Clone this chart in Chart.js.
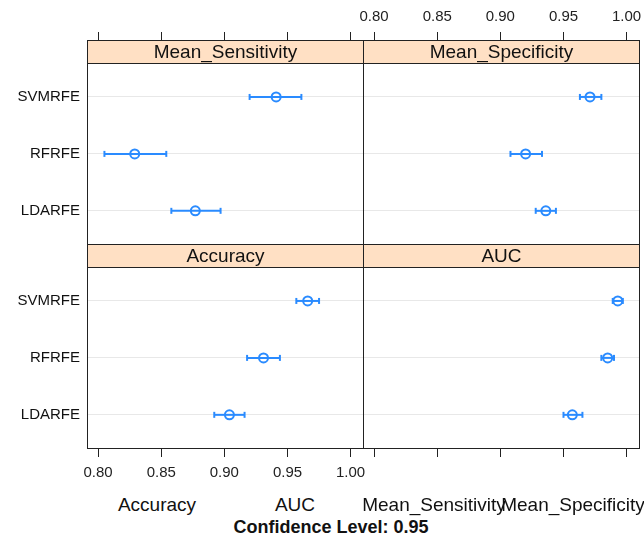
<!DOCTYPE html>
<html>
<head>
<meta charset="utf-8">
<script src="https://cdn.jsdelivr.net/npm/chart.js@4.4.1/dist/chart.umd.min.js"></script>
<style>
body{margin:0;background:#fff;width:644px;height:537px;position:relative;overflow:hidden;font-family:"Liberation Sans",Arial,sans-serif;}
.p{position:absolute;}
.k{position:absolute;font-size:19px;color:#111;transform:translate(-50%,-50%);white-space:nowrap;}
.b{font-weight:bold;font-size:18px;}
</style>
</head>
<body>
<div class="p" style="left:0;top:0;width:364px;height:245px"><canvas id="sens"></canvas></div>
<div class="p" style="left:343px;top:0;width:301px;height:245px"><canvas id="spec"></canvas></div>
<div class="p" style="left:0;top:244px;width:384px;height:240px"><canvas id="acc"></canvas></div>
<div class="p" style="left:363px;top:244px;width:281px;height:240px"><canvas id="auc"></canvas></div>

<div class="k" style="left:157px;top:505px">Accuracy</div>
<div class="k" style="left:295px;top:505px">AUC</div>
<div class="k" style="left:434px;top:505px">Mean_Sensitivity</div>
<div class="k" style="left:573px;top:505px">Mean_Specificity</div>
<div class="k b" style="left:331px;top:527px">Confidence Level: 0.95</div>

<script>
//Models, top to bottom
const MODELS = ['SVMRFE', 'RFRFE', 'LDARFE'];
const X_TICKS = [0.80, 0.85, 0.90, 0.95, 1.00];

//Mean_Sensitivity
const SENS_MEAN = [0.941, 0.829, 0.877];
const SENS_LO = [0.920, 0.805, 0.858];
const SENS_HI = [0.961, 0.854, 0.897];

//Mean_Specificity
const SPEC_MEAN = [0.971, 0.920, 0.936];
const SPEC_LO = [0.963, 0.908, 0.928];
const SPEC_HI = [0.980, 0.933, 0.944];

//Accuracy
const ACC_MEAN = [0.966, 0.931, 0.904];
const ACC_LO = [0.957, 0.918, 0.892];
const ACC_HI = [0.975, 0.944, 0.916];

//AUC
const AUC_MEAN = [0.993, 0.985, 0.957];
const AUC_LO = [0.989, 0.980, 0.950];
const AUC_HI = [0.997, 0.990, 0.965];

const BLUE = '#2a8bff';
const FONT = '"Liberation Sans", Arial, sans-serif';

//strip on top of each panel + black frame
const stripPlugin = {
    id: 'strip',
    beforeDatasetsDraw(chart, args, opts) {
        const ctx = chart.ctx;
        const a = chart.chartArea;
        const bottom = Math.round(chart.scales.y.getPixelForValue(0.4));
        ctx.save();
        ctx.fillStyle = '#ffe0c4';
        ctx.fillRect(a.left, a.top, a.right - a.left, bottom - a.top);
        ctx.strokeStyle = '#222';
        ctx.lineWidth = 1;
        ctx.beginPath();
        ctx.moveTo(a.left, bottom + 0.5);
        ctx.lineTo(a.right, bottom + 0.5);
        ctx.stroke();
        ctx.fillStyle = '#111';
        ctx.font = '19px ' + FONT;
        ctx.textAlign = 'center';
        ctx.textBaseline = 'middle';
        ctx.fillText(opts.title, (a.left + a.right) / 2, (a.top + bottom) / 2 + 1);
        ctx.restore();
    },
    afterDraw(chart) {
        const ctx = chart.ctx;
        const a = chart.chartArea;
        ctx.save();
        ctx.strokeStyle = '#222';
        ctx.lineWidth = 1;
        ctx.strokeRect(a.left + 0.5, a.top + 0.5, a.right - a.left - 1, a.bottom - a.top - 1);
        ctx.restore();
    }
};

//no label overhang padding, fixed axis sizes
function noPad(s) {
    s.paddingLeft = 0;
    s.paddingRight = 0;
    s.paddingTop = 0;
    s.paddingBottom = 0;
}

function makeDatasets(mean, lo, hi) {
    const ds = [];
    MODELS.forEach((m, i) => {
        ds.push({
            data: [{x: lo[i], y: i + 1}, {x: hi[i], y: i + 1}],
            showLine: true,
            borderColor: BLUE,
            borderWidth: 2,
            pointStyle: 'line',
            pointRotation: 90,
            pointRadius: 3,
            pointBorderWidth: 2,
            pointBorderColor: BLUE
        });
    });
    ds.push({
        data: mean.map((v, i) => ({x: v, y: i + 1})),
        showLine: false,
        pointStyle: 'circle',
        pointRadius: 4.5,
        pointBorderWidth: 2,
        pointBorderColor: BLUE,
        pointBackgroundColor: 'rgba(0,0,0,0)'
    });
    return ds;
}

function makePanel(id, title, mean, lo, hi, xPos, xLabels, yLabels, pad) {
    const ctx = document.getElementById(id).getContext('2d');
    return new Chart(ctx, {
        type: 'scatter',
        data: { datasets: makeDatasets(mean, lo, hi) },
        options: {
            responsive: true,
            maintainAspectRatio: false,
            animation: false,
            events: [],
            layout: { autoPadding: false, padding: { left: pad[0], right: pad[1], top: 0, bottom: 0 } },
            plugins: { legend: { display: false }, tooltip: { enabled: false }, strip: { title: title } },
            scales: {
                x: {
                    type: 'linear',
                    position: xPos,
                    min: 0.7912,
                    max: 1.0106,
                    afterBuildTicks: s => { s.ticks = X_TICKS.map(v => ({value: v})); },
                    afterFit: s => { s.height = xPos === 'top' ? 40 : 35; noPad(s); },
                    border: { display: false },
                    grid: { drawOnChartArea: false, drawTicks: true, tickLength: 8, color: '#222' },
                    ticks: {
                        padding: xPos === 'top' ? 6 : 7,
                        color: '#222',
                        font: { family: FONT, size: 15 },
                        maxRotation: 0,
                        autoSkip: false,
                        callback: v => xLabels ? v.toFixed(2) : ''
                    }
                },
                y: {
                    type: 'linear',
                    reverse: true,
                    min: 0,
                    max: 3.6,
                    afterBuildTicks: s => { s.ticks = MODELS.map((m, i) => ({value: i + 1})); },
                    afterFit: s => { s.width = yLabels ? 87 : 0; noPad(s); },
                    border: { display: false },
                    grid: { color: '#e8e8e8', drawTicks: false, lineWidth: 1 },
                    ticks: {
                        display: yLabels,
                        padding: 7,
                        color: '#111',
                        font: { family: FONT, size: 15 },
                        callback: v => MODELS[v - 1] || ''
                    }
                }
            }
        },
        plugins: [stripPlugin]
    });
}

makePanel('sens', 'Mean_Sensitivity', SENS_MEAN, SENS_LO, SENS_HI, 'top', false, true, [0, 0]);
makePanel('spec', 'Mean_Specificity', SPEC_MEAN, SPEC_LO, SPEC_HI, 'top', true, false, [20, 4]);
makePanel('acc', 'Accuracy', ACC_MEAN, ACC_LO, ACC_HI, 'bottom', true, true, [0, 20]);
makePanel('auc', 'AUC', AUC_MEAN, AUC_LO, AUC_HI, 'bottom', false, false, [0, 4]);
</script>
</body>
</html>
